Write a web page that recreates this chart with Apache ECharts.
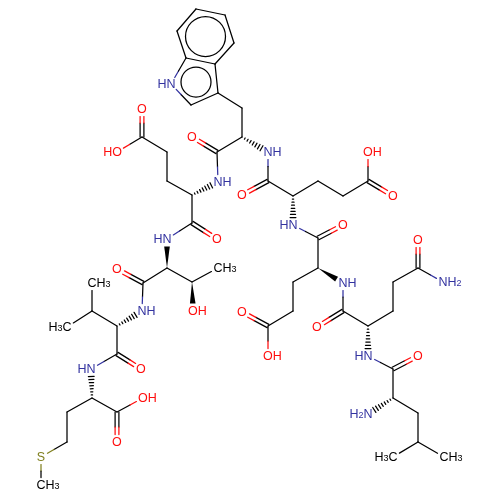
<!DOCTYPE html>
<html><head><meta charset="utf-8">
<style>html,body{margin:0;padding:0;background:#fff}#c{width:500px;height:500px}</style>
<script src="https://cdn.jsdelivr.net/npm/echarts@6/dist/echarts.min.js"></script>
</head><body><div id="c"></div>
<script>
var atomNames = ['t1','t2','t3','t4','t5','t6','t7','t8','tN','tB','tA','tC','tO','tNb',
 'e1A','e1B','e1G','e1C','e1O1','e1O2','e1K','e1Ok','e1N',
 'thN','thA','thK','thOk','thB','thM','thO',
 'vN','vA','vB','vM1','vM2','vK','vOk',
 'mN','mA','mK','mOH','mOd','mB','mG','mS','mM',
 'e2K','e2Ok','e2A','e2B','e2G','e2C','e2OH','e2Od','e2N',
 'e3K','e3Ok','e3A','e3N','e3B','e3G','e3C','e3Od','e3OH',
 'qK','qOk','qA','qN','qB','qG','qC','qOd','qNH2',
 'lK','lOk','lA','lN','lB','lG','lM1','lM2'];
var atomX = [196,225,234,215,186,177,218,191,171,242,242,217,192,268,
 192,167,167,142,142,117,192,217,218,
 167,167,143,117,192,218,193,
 142,117,92,92,67,117,141,
 91,92,117,143,117,67,67,41,41,
 268,242,293,318,343,368,368,393,293,
 318,343,318,343,293,293,268,242,268,
 343,317,368,368,393,393,418,418,443,
 393,418,393,368,418,418,393,444];
var atomY = [9,15,43,64,58,31,93,105,84,108,137,152,137,152,
 195,181,152,137,109,152,223,239,182,
 239,268,283,269,282,268,311,
 311,326,311,283,327,354,369,
 369,398,412,398,442,412,442,457,485,
 181,195,196,181,196,181,152,196,225,
 238,225,268,283,282,311,326,312,356,
 311,327,326,356,311,282,268,240,282,
 369,356,398,414,413,442,457,457];
var atomText = {tN:'HN',tO:'O',tNb:'NH',e1O1:'O',e1O2:'HO',e1Ok:'O',e1N:'NH',
 thN:'HN',thOk:'O',thM:'CH3',thO:'OH',vN:'NH',vM1:'CH3',vM2:'H3C',vOk:'O',
 mN:'HN',mOH:'OH',mOd:'O',mS:'S',mM:'CH3',e2Ok:'O',e2OH:'OH',e2Od:'O',e2N:'HN',
 e3Ok:'O',e3N:'NH',e3Od:'O',e3OH:'OH',qOk:'O',qN:'HN',qOd:'O',qNH2:'NH2',
 lOk:'O',lN:'H2N',lM1:'H3C',lM2:'CH3'};
var singleBonds = ['t1-t2','t2-t3','t3-t4','t4-t5','t5-t6','t6-t1','t4-t7','t7-t8','t8-tN','tN-t5','t7-tB','tB-tA','tA-tC',
 'tC-e1N','e1A-e1B','e1B-e1G','e1G-e1C','e1C-e1O2','e1A-e1K','e1K-thN',
 'thA-thK','thA-thB','thB-thM','thK-vN','vA-vB','vB-vM1','vB-vM2','vA-vK','vK-mN',
 'mA-mK','mK-mOH','mA-mB','mB-mG','mG-mS','mS-mM',
 'tNb-e2K','e2K-e2A','e2A-e2B','e2B-e2G','e2G-e2C','e2C-e2OH','e2N-e3K','e3K-e3A','e3A-e3B','e3B-e3G','e3G-e3C','e3C-e3OH',
 'e3N-qK','qK-qA','qA-qB','qB-qG','qG-qC','qC-qNH2','qN-lK','lK-lA','lA-lB','lB-lG','lG-lM1','lG-lM2'];
var doubleBonds = ['tC-tO','e1C-e1O1','e1K-e1Ok','thK-thOk','vK-vOk','mK-mOd','e2K-e2Ok','e2C-e2Od','e3K-e3Ok','e3C-e3Od','qK-qOk','qC-qOd','lK-lOk'];
var wedgeBonds = ['thA-thN','thB-thO','e3A-e3N'];
var hashBonds = ['tA-tNb','e1A-e1N','vA-vN','mA-mN','e2A-e2N','qA-qN','lA-lN'];
var ringX = [205.5,196], ringY = [36.5,82], ringR = [20,15];
var elementColors = {N:'#3333a0',O:'#ff0d0d',S:'#808020',C:'#000000'};

function at(n){var i=atomNames.indexOf(n);return {x:atomX[i],y:atomY[i],t:atomText[n]||''};}
var allBonds = [];
function add(list,kind){list.forEach(function(b){var p=b.split('-');var a=at(p[0]),c=at(p[1]);
  allBonds.push([a.x,a.y,c.x,c.y,kind,a.t,c.t]);});}
add(singleBonds,'s');add(doubleBonds,'d');add(wedgeBonds,'w');add(hashBonds,'h');
function heteroColor(t){if(!t||t.indexOf('C')>=0)return elementColors.C;if(t.indexOf('N')>=0)return elementColors.N;if(t.indexOf('O')>=0)return elementColors.O;if(t==='S')return elementColors.S;return elementColors.C;}
var labelData = [];
atomNames.forEach(function(n){var a=at(n);if(a.t)labelData.push([a.x,a.y,a.t]);});

var LW=1.25;
function seg(p,q,c){return {type:'line',shape:{x1:p[0],y1:p[1],x2:q[0],y2:q[1]},style:{stroke:c,lineWidth:LW,lineCap:'round'},silent:true};}
function renderBond(params,api){
  var d=allBonds[params.dataIndex];
  var a=api.coord([d[0],d[1]]),b=api.coord([d[2],d[3]]);
  var dx=b[0]-a[0],dy=b[1]-a[1],L=Math.sqrt(dx*dx+dy*dy),ux=dx/L,uy=dy/L,nx=-uy,ny=ux;
  var kind=d[4],ch=[];
  var t0=d[5]?7.5:0,t1=d[6]?7.5:0;
  var s=[a[0]+ux*t0,a[1]+uy*t0],e=[b[0]-ux*t1,b[1]-uy*t1],m=[(a[0]+b[0])/2,(a[1]+b[1])/2];
  var c0=heteroColor(d[5]),c1=heteroColor(d[6]);
  function two(off){
    var o=[nx*off,ny*off];
    var S=[s[0]+o[0],s[1]+o[1]],M=[m[0]+o[0],m[1]+o[1]],E=[e[0]+o[0],e[1]+o[1]];
    if(c0===c1){ch.push(seg(S,E,c0));}else{ch.push(seg(S,M,c0));ch.push(seg(M,E,c1));}
  }
  if(kind==='s')two(0);
  else if(kind==='d'){two(1.9);two(-1.9);}
  else if(kind==='w'){
    var w=2.8;
    ch.push({type:'polygon',shape:{points:[a,[e[0]+nx*w,e[1]+ny*w],[e[0]-nx*w,e[1]-ny*w]]},style:{fill:'#000'},silent:true});
  } else {
    var len=L-t1,n=7;
    for(var i=1;i<=n;i++){
      var f=i/n,pos=len*f,hw=0.3+2.6*f;
      var cx=a[0]+ux*pos,cy=a[1]+uy*pos;
      ch.push(seg([cx+nx*hw,cy+ny*hw],[cx-nx*hw,cy-ny*hw],'#000'));
    }
  }
  return {type:'group',children:ch};
}
function renderRing(params,api){
  var c=api.coord([ringX[params.dataIndex],ringY[params.dataIndex]]);
  var r=api.size([ringR[params.dataIndex],0])[0];
  return {type:'circle',shape:{cx:c[0],cy:c[1],r:r},style:{stroke:'#000',fill:null,lineWidth:LW},silent:true};
}
function renderLabel(params,api){
  var d=labelData[params.dataIndex];
  var p=api.coord([d[0],d[1]]),t=d[2],col=heteroColor(t);
  var right=(t==='HN'||t==='HO'||t==='H3C'||t==='H2N');
  var m=t.match(/^([A-Z]+)(\d)?([A-Z]*)$/);
  var rich={b:{fill:col,fontSize:12.5,fontFamily:'Liberation Sans',lineHeight:12,verticalAlign:'top'},
            s:{fill:col,fontSize:9,fontFamily:'Liberation Sans',lineHeight:8,padding:[7,0,0,0],verticalAlign:'bottom'}};
  var str='{b|'+m[1]+'}'+(m[2]?'{s|'+m[2]+'}':'')+(m[3]?'{b|'+m[3]+'}':'');
  var hw=t[right?t.length-1:0]==='O'?4.9:(t==='S'?4.2:4.5);
  return {type:'text',style:{text:str,rich:rich,x:p[0]+(right?hw:-hw),y:p[1]-6,align:right?'right':'left',verticalAlign:'top'},silent:true};
}
var chart=echarts.init(document.getElementById('c'),null,{renderer:'canvas',width:500,height:500});
chart.setOption({
  animation:false,backgroundColor:'#fff',
  grid:{left:0,top:0,width:500,height:500},
  xAxis:{type:'value',min:0,max:500,show:false},
  yAxis:{type:'value',min:0,max:500,inverse:true,show:false},
  series:[
   {type:'custom',coordinateSystem:'cartesian2d',clip:false,silent:true,data:allBonds.map(function(b){return [b[0],b[1],b[2],b[3]];}),renderItem:renderBond},
   {type:'custom',coordinateSystem:'cartesian2d',clip:false,silent:true,data:ringX.map(function(x,i){return [x,ringY[i]];}),renderItem:renderRing},
   {type:'custom',coordinateSystem:'cartesian2d',clip:false,silent:true,data:labelData.map(function(l){return [l[0],l[1]];}),renderItem:renderLabel}
  ]
});
</script></body></html>
